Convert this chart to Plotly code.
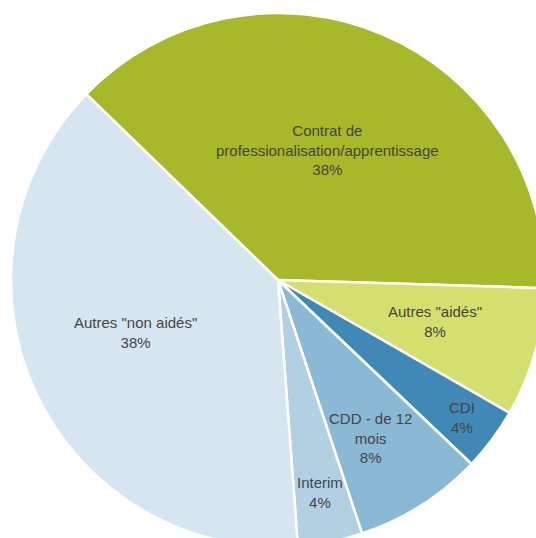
"""Pie chart: type de contrat."""

import math
import plotly.graph_objects as go

labels = [
    'Contrat de<br>professionalisation/apprentissage',
    'Autres "aidés"',
    'CDI',
    'CDD - de 12<br>mois',
    'Interim',
    'Autres "non aidés"',
]
values = [38.2, 7.8, 3.8, 7.8, 3.9, 38.4]
colors = ['#A7B828', '#D4E06E', '#4089B6', '#8AB9D6', '#B1D1E3', '#D6E6F0']

ROTATION = -45.9
# label placement: fraction of radius and angle tweak (deg) per slice
label_radius = [0.52, 0.61, 0.86, 0.685, 0.81, 0.57]
label_shift = [-2, -1, 0, 2, 0, 5]

fig = go.Figure()
fig.add_trace(go.Pie(
    labels=labels,
    values=values,
    sort=False,
    direction='clockwise',
    rotation=ROTATION,
    marker=dict(colors=colors, line=dict(color='white', width=2.5)),
    textinfo='none',
    hoverinfo='label+percent',
))

# labels placed near the middle angle of each slice
total = sum(values)
cum = 0
for lab, v, f, sh in zip(labels, values, label_radius, label_shift):
    mid = ROTATION + (cum + v / 2) / total * 360 + sh
    cum += v
    theta = math.radians(mid)
    fig.add_annotation(
        x=0.5 + 0.5 * f * math.sin(theta),
        y=0.5 + 0.5 * f * math.cos(theta),
        xref='paper', yref='paper',
        text=f'{lab}<br>{round(v / total * 100)}%',
        showarrow=False,
        xanchor='center', yanchor='middle',
        font=dict(family='Liberation Sans, Arial', size=15, color='#454545'),
    )

fig.update_layout(
    width=560,
    height=560,
    margin=dict(l=11, r=15, t=13, b=13),
    showlegend=False,
    paper_bgcolor='white',
)

fig.write_html(
    "out.html",
    config={'displayModeBar': False},
    post_script="document.body.style.margin='0';document.body.style.overflow='hidden';",
)
